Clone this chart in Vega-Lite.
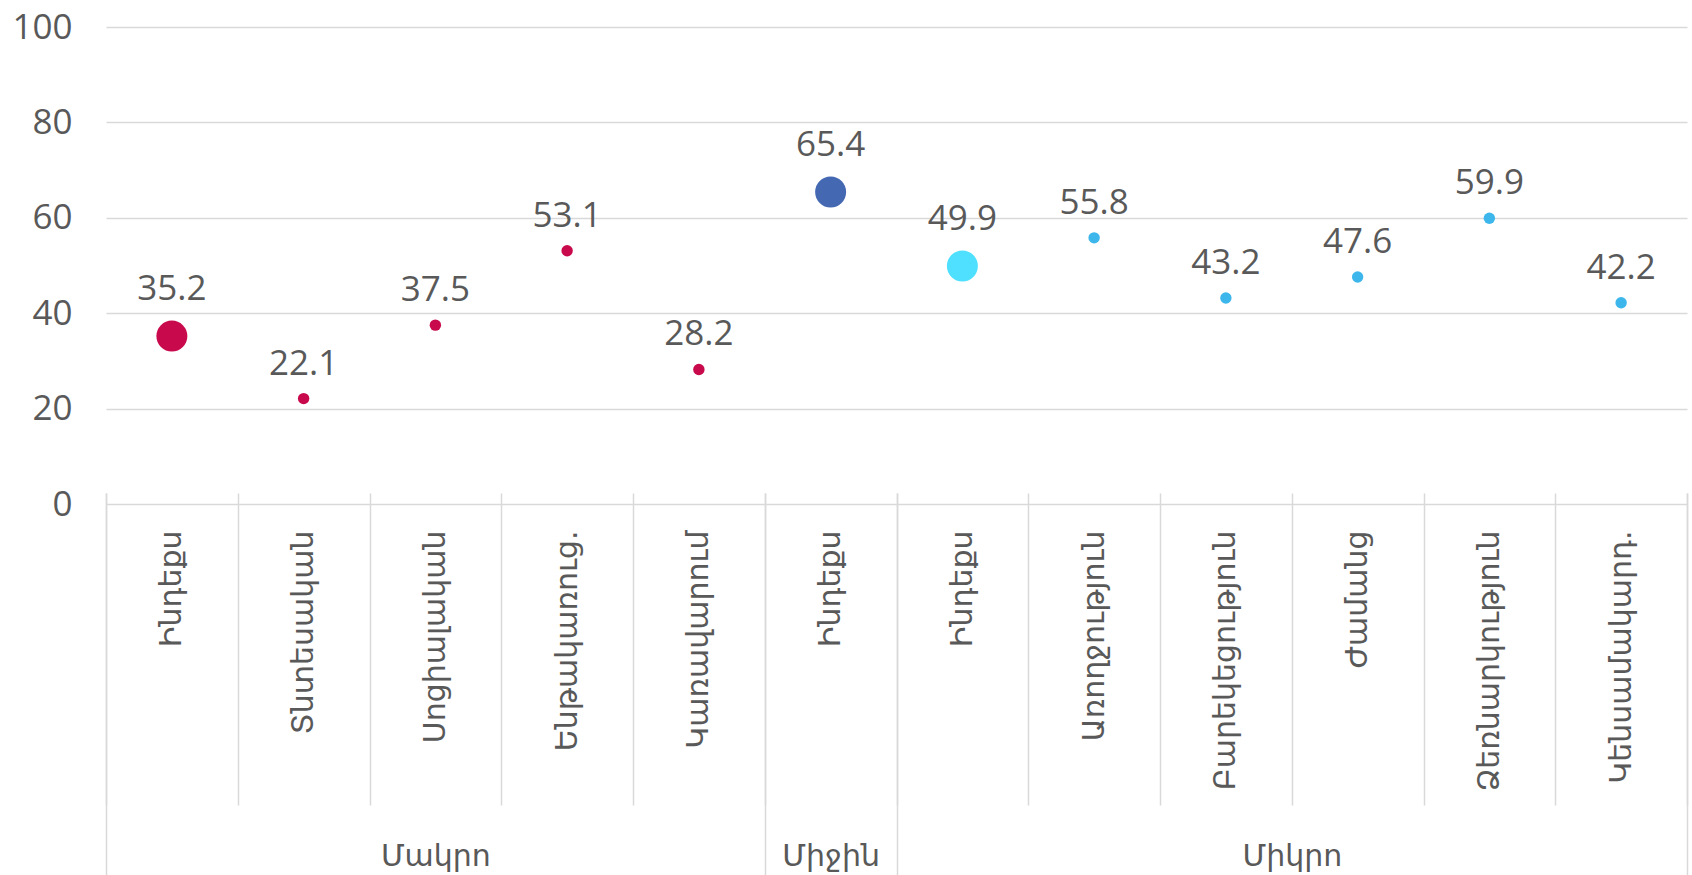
{
  "$schema": "https://vega.github.io/schema/vega-lite/v6.json",
  "width": 1581,
  "height": 477,
  "autosize": {"type": "none"},
  "padding": {"left": 106, "top": 27, "right": 5, "bottom": 371},
  "background": "white",
  "config": {"view": {"stroke": null}, "font": "Open Sans, DejaVu Sans, sans-serif"},
  "data": {
    "values": [
      {"group": "Մակրո", "cat": "Ինդեքս", "value": 35.2, "series": "macro", "level": "total"},
      {"group": "Մակրո", "cat": "Տնտեսական", "value": 22.1, "series": "macro", "level": "part"},
      {"group": "Մակրո", "cat": "Սոցիալական", "value": 37.5, "series": "macro", "level": "part"},
      {"group": "Մակրո", "cat": "Ենթակառուց.", "value": 53.1, "series": "macro", "level": "part"},
      {"group": "Մակրո", "cat": "Կառավարում", "value": 28.2, "series": "macro", "level": "part"},
      {"group": "Միջին", "cat": "Ինդեքս", "value": 65.4, "series": "mid", "level": "total"},
      {"group": "Միկրո", "cat": "Ինդեքս", "value": 49.9, "series": "microTotal", "level": "total"},
      {"group": "Միկրո", "cat": "Առողջություն", "value": 55.8, "series": "micro", "level": "part"},
      {"group": "Միկրո", "cat": "Բարեկեցություն", "value": 43.2, "series": "micro", "level": "part"},
      {"group": "Միկրո", "cat": "Ժամանց", "value": 47.6, "series": "micro", "level": "part"},
      {"group": "Միկրո", "cat": "Ձեռնարկություն", "value": 59.9, "series": "micro", "level": "part"},
      {"group": "Միկրո", "cat": "Կենսամակարդ.", "value": 42.2, "series": "micro", "level": "part"}
    ]
  },
  "transform": [{"calculate": "datum.group + '|' + datum.cat", "as": "key"}],
  "encoding": {
    "y": {
      "field": "value",
      "type": "quantitative",
      "scale": {"domain": [0, 100], "nice": false},
      "axis": {
        "title": null,
        "values": [0, 20, 40, 60, 80, 100],
        "domain": false,
        "ticks": false,
        "grid": true,
        "gridColor": "#D9D9D9",
        "gridWidth": 1.5,
        "labelFont": "Open Sans",
        "labelFontSize": 35,
        "labelColor": "#595959",
        "labelPadding": 34
      }
    }
  },
  "layer": [
    {
      "mark": {"type": "circle", "opacity": 1},
      "encoding": {
        "x": {
          "field": "key",
          "type": "nominal",
          "sort": null,
          "scale": {"paddingInner": 0, "paddingOuter": 0},
          "axis": {
            "title": null,
            "orient": "bottom",
            "offset": -11,
            "domain": false,
            "grid": false,
            "ticks": true,
            "tickBand": "extent",
            "tickSize": 312,
            "tickColor": "#D9D9D9",
            "tickWidth": 1.5,
            "labelAngle": -90,
            "labelAlign": "right",
            "labelBaseline": "middle",
            "labelPadding": -275,
            "labelFont": "DejaVu Sans",
            "labelFontSize": 30,
            "labelColor": "#595959",
            "labelLimit": 500,
            "labelOverlap": false,
            "labelExpr": "split(datum.value, '|')[1]"
          }
        },
        "color": {
          "field": "series",
          "type": "nominal",
          "scale": {"domain": ["macro", "mid", "microTotal", "micro"], "range": ["#C8094C", "#4468B1", "#4FE0FF", "#3DB7EB"]},
          "legend": null
        },
        "size": {
          "field": "level",
          "type": "nominal",
          "scale": {"domain": ["total", "part"], "range": [960, 130]},
          "legend": null
        }
      }
    },
    {
      "mark": {
        "type": "text",
        "font": "Open Sans",
        "fontSize": 35,
        "color": "#595959",
        "baseline": "alphabetic",
        "align": "center",
        "dy": {"expr": "datum.level == 'total' ? -36 : -24"}
      },
      "encoding": {
        "x": {
          "field": "key",
          "type": "nominal",
          "sort": null,
          "scale": {"paddingInner": 0, "paddingOuter": 0},
          "axis": {
            "title": null,
            "orient": "bottom",
            "offset": -11,
            "domain": false,
            "grid": false,
            "ticks": true,
            "tickBand": "extent",
            "tickSize": 382,
            "tickColor": "#D9D9D9",
            "tickWidth": 1.5,
            "tickOpacity": {"condition": {"test": "datum.extra || indexof(['Մակրո|Կառավարում', 'Միջին|Ինդեքս', 'Միկրո|Կենսամակարդ.'], datum.value) >= 0", "value": 1}, "value": 0},
            "labelAngle": 0,
            "labelAlign": "center",
            "labelBaseline": "middle",
            "labelPadding": -19,
            "labelFont": "DejaVu Sans",
            "labelFontSize": 30,
            "labelColor": "#595959",
            "labelLimit": 500,
            "labelOverlap": false,
            "labelOffset": {"condition": {"test": "datum.value == 'Միկրո|Բարեկեցություն'", "value": 66}, "value": 0},
            "labelExpr": "datum.value == 'Մակրո|Սոցիալական' ? 'Մակրո' : datum.value == 'Միջին|Ինդեքս' ? 'Միջին' : datum.value == 'Միկրո|Բարեկեցություն' ? 'Միկրո' : ''"
          }
        },
        "text": {"field": "value", "type": "quantitative", "format": ".1f"}
      }
    }
  ],
  "resolve": {"scale": {"x": "shared"}, "axis": {"x": "independent"}}
}
